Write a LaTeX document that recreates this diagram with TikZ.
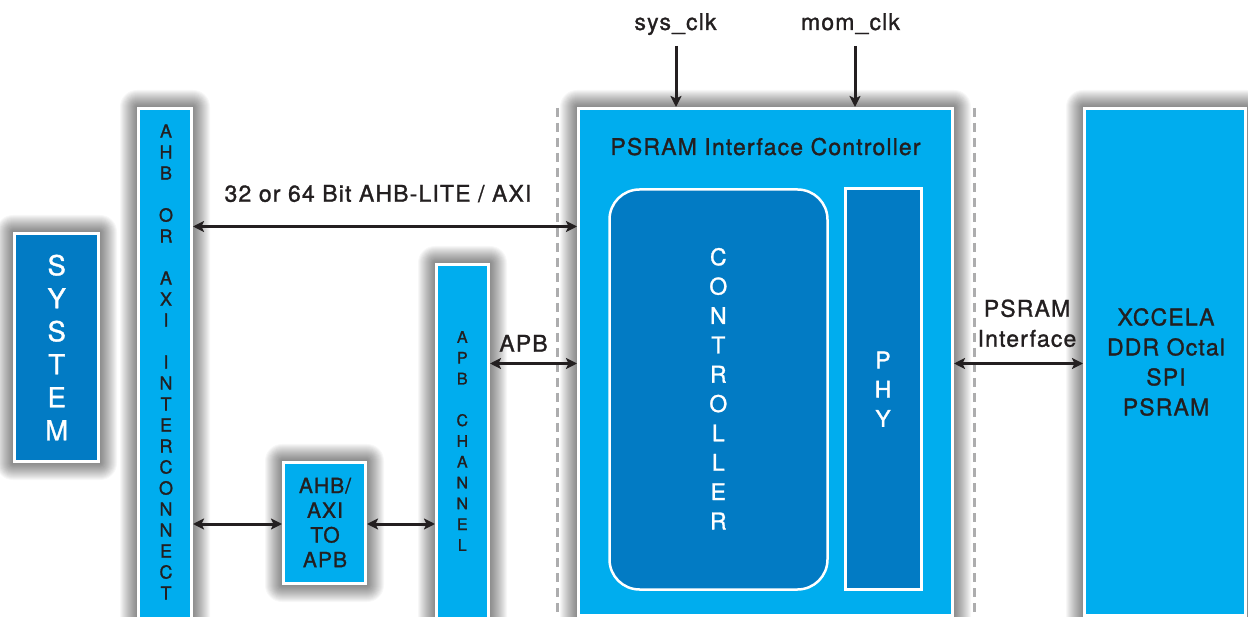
\documentclass[tikz,border=0pt]{standalone}
\usepackage{fontspec}
\setmainfont[LetterSpace=5, FakeBold=1.2]{TeX Gyre Heros}
\usetikzlibrary{arrows.meta,fit,calc}

\definecolor{cyanbox}{HTML}{00ADEE}
\definecolor{bluebox}{HTML}{027BC4}
\definecolor{ink}{HTML}{231F20}
\definecolor{dashgray}{HTML}{ADADAE}

\pgfdeclarelayer{base}
\pgfdeclarelayer{haze}
\pgfsetlayers{base,haze,main}

\tikzset{
  panel/.style={draw=white, line width=3pt, inner sep=0pt},
  light/.style={panel, fill=cyanbox},
  dark/.style={panel, fill=bluebox},
  inner/.style={draw=white, line width=2.5pt, fill=bluebox, inner sep=0pt},
  lbl/.style={text=ink, font=\fontsize{23}{30}\selectfont, inner sep=0pt, align=center},
  stack/.style={inner sep=0pt, align=center},
  tip/.tip={Stealth[length=11pt,width=11pt,inset=2.5pt]},
  link/.style={draw=ink, line width=3pt, tip-tip},
  feed/.style={draw=ink, line width=3pt, -tip},
  boundary/.style={draw=dashgray, line width=3pt, dash pattern=on 9pt off 6pt},
}

% soft glow around a panel: stacked translucent outlines
\newcommand{\halo}[1]{%
  \foreach \k in {1,...,17}{%
    \fill[black, opacity=0.032, rounded corners=\k pt]
      ($(#1.south west)+(-\k pt,-\k pt)$) rectangle ($(#1.north east)+(\k pt,\k pt)$);
  }%
}

\begin{document}
\begin{tikzpicture}[x=1pt, y=-1pt]
  \begin{pgfonlayer}{base}
    \fill[white] (0,0) rectangle (1248,617);
  \end{pgfonlayer}
  \useasboundingbox (0,0) rectangle (1248,617);
  \clip (0,0) rectangle (1248,617);

  % clock-domain boundaries
  \coordinate (bl1) at (557,108);  \coordinate (bl2) at (557,620);
  \coordinate (br1) at (974,108);  \coordinate (br2) at (974,620);
  \draw[boundary] (bl1) -- (bl2);
  \draw[boundary] (br1) -- (br2);

  % system side
  \node[dark,  fit={(14.5,233.5) (98.5,461.5)}] (sys) {};
  \node[light, fit={(138.5,108.5) (191.5,650)}] (ahb) {};
  \node[light, fit={(436.5,264.5) (488.5,650)}] (apbch) {};
  \node[light, fit={(283.5,462.5) (365.5,583.5)}] (conv) {};

  % controller and memory
  \node[light, fit={(578.5,108.5) (952.5,615.5)}] (psram) {};
  \node[inner, rounded corners=30pt, fit={(609.5,189.5) (827.5,589.5)}] (ctrl) {};
  \node[inner, fit={(845.5,188.5) (921.5,589.5)}] (phy) {};
  \node[light, fit={(1084.5,108.5) (1245.5,615.5)}] (mem) {};

  \begin{pgfonlayer}{haze}
    \halo{sys}\halo{ahb}\halo{apbch}\halo{conv}\halo{psram}\halo{mem}
  \end{pgfonlayer}

  % vertical letter stacks
  \node[stack, text=white, font=\fontsize{27.5}{33}\selectfont] (systxt) at (56.7,347.5)
    {S\\Y\\S\\T\\E\\M};
  \node[stack, text=ink, font=\fontsize{18}{21}\selectfont] (ahbtxt) at (166,362)
    {A\\H\\B\\[21pt]O\\R\\[21pt]A\\X\\I\\[21pt]I\\N\\T\\E\\R\\C\\O\\N\\N\\E\\C\\T};
  \node[stack, text=ink, font=\fontsize{16}{20.8}\selectfont] (apbtxt) at (462.3,441)
    {A\\P\\B\\[20.8pt]C\\H\\A\\N\\N\\E\\L};
  \node[stack, text=white, font=\fontsize{23}{29.35}\selectfont] (ctrltxt) at (718.3,388.7)
    {C\\O\\N\\T\\R\\O\\L\\L\\E\\R};
  \node[stack, text=white, font=\fontsize{23}{29.2}\selectfont] (phytxt) at (883,389.2)
    {P\\H\\Y};

  % labels
  \node[lbl, font=\fontsize{21}{24.7}\selectfont] (convtxt) at (325,522.5) {AHB/\\AXI\\TO\\APB};
  \node[lbl] (memtxt) at (1166,362) {XCCELA\\DDR Octal\\SPI\\PSRAM};
  \node[lbl, anchor=base] (title) at (765.5,155) {PSRAM Interface Controller};
  \node[lbl, anchor=base] (buslbl) at (378,201.7) {32 or 64 Bit AHB-LITE / AXI};
  \node[lbl, anchor=base] (apblbl) at (523.5,351.7) {APB};
  \node[lbl] (psilbl) at (1027,323.3) {PSRAM\\Interface};
  \node[lbl, anchor=base] (sysclk) at (675.5,30) {sys\_clk};
  \node[lbl, anchor=base] (momclk) at (850.5,30) {mom\_clk};

  % clock inputs
  \coordinate (sysin) at (676,46);
  \coordinate (momin) at (855,46);
  \draw[feed] (sysin) -- (sysin |- psram.north);
  \draw[feed] (momin) -- (momin |- psram.north);

  % bus connections
  \coordinate (busy) at (0,226.5);
  \coordinate (apby) at (0,363.5);
  \coordinate (cvy)  at (0,524);
  \draw[link] (ahb.east |- busy) -- (psram.west |- busy);
  \draw[link] (apbch.east |- apby) -- (psram.west |- apby);
  \draw[link] (ahb.east |- cvy) -- (conv.west |- cvy);
  \draw[link] (conv.east |- cvy) -- (apbch.west |- cvy);
  \draw[link] (psram.east |- apby) -- (mem.west |- apby);
\end{tikzpicture}
\end{document}
